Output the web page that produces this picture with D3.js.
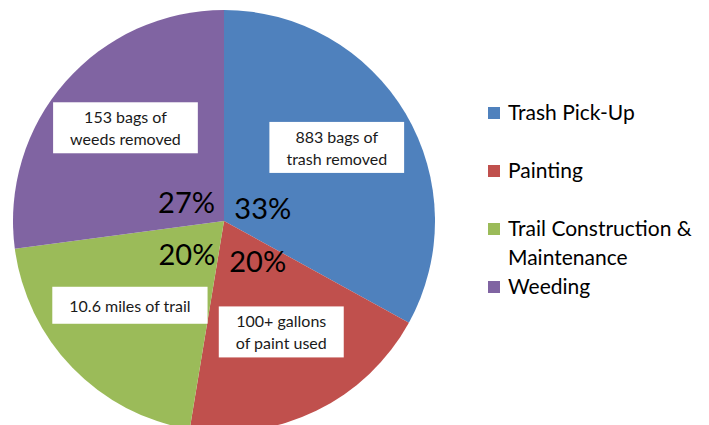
<!DOCTYPE html>
<html>
<head>
<meta charset="utf-8">
<script src="https://cdn.jsdelivr.net/npm/d3@7"></script>
<style>
  body { margin: 0; background: #fff; }
  svg { display: block; font-family: Lato, "Open Sans", sans-serif; }
</style>
</head>
<body>
<svg id="chart"></svg>
<script>
// volunteer work pie — share by activity, with note boxes

const categories = ['Trash Pick-Up', 'Painting', 'Trail Construction & Maintenance', 'Weeding'];
const shares     = [33.0, 19.6, 20.3, 27.1];
const notes      = [
    ['883 bags of', 'trash removed'],
    ['100+ gallons', 'of paint used'],
    ['10.6 miles of trail'],
    ['153 bags of', 'weeds removed'],
];
const legendLines = [
    ['Trash Pick-Up'],
    ['Painting'],
    ['Trail Construction &', 'Maintenance'],
    ['Weeding'],
];

const COLORS = ['#4f81bd', '#c0504d', '#9bbb59', '#8064a2'];

const W = 709, H = 425;
const svg = d3.select('#chart').attr('width', W).attr('height', H);

const cx = 224, cy = 221, R = 211;

const color = d3.scaleOrdinal().domain(categories).range(COLORS);

const pie = d3.pie().sort(null).value(d => d.value);
const data = categories.map((c, i) => ({ name: c, value: shares[i], note: notes[i] }));
const arcs = pie(data);
const total = d3.sum(shares);

const arc      = d3.arc().innerRadius(0).outerRadius(R);
const unitArc  = d3.arc().innerRadius(1).outerRadius(1);   // direction of slice middle
const noteArc  = d3.arc().innerRadius(131).outerRadius(131);

const g = svg.append('g').attr('transform', `translate(${cx},${cy})`);

// ── Slices ──────────────────────────────────────────────────────────────
g.selectAll('path.slice')
    .data(arcs)
    .join('path')
    .attr('class', 'slice')
    .attr('d', arc)
    .attr('fill', d => color(d.data.name));

// ── Note boxes ──────────────────────────────────────────────────────────
const LINE_H = 22;
const noteG = g.selectAll('g.note')
    .data(arcs)
    .join('g')
    .attr('class', 'note')
    .attr('transform', d => {
        const [x, y] = noteArc.centroid(d);
        return `translate(${x},${y - 6})`;
    });

noteG.each(function(d) {
    const sel = d3.select(this);
    const lines = d.data.note;
    const rect = sel.append('rect').attr('fill', '#fff');
    const txt = sel.append('text')
        .attr('text-anchor', 'middle')
        .attr('fill', '#1a1a1a')
        .attr('font-size', '16px');
    lines.forEach((l, i) => {
        txt.append('tspan')
            .attr('x', 0)
            .attr('y', (i - (lines.length - 1) / 2) * LINE_H)
            .attr('dy', '0.35em')
            .text(l);
    });
    const bb = txt.node().getBBox();
    const padX = 17, padY = lines.length > 1 ? 5 : 9;
    rect.attr('x', bb.x - padX).attr('y', bb.y - padY)
        .attr('width', bb.width + padX * 2).attr('height', bb.height + padY * 2);
});

// ── Percent labels (hugging the centre, anchored away from it) ─────────
g.selectAll('text.pct')
    .data(arcs)
    .join('text')
    .attr('class', 'pct')
    .attr('transform', d => {
        const [ux, uy] = unitArc.centroid(d);
        return `translate(${ux * 12},${uy * 38 + 7})`;
    })
    .attr('text-anchor', d => unitArc.centroid(d)[0] >= 0 ? 'start' : 'end')
    .attr('dy', '0.35em')
    .attr('fill', '#000')
    .attr('font-size', '29px')
    .text(d => Math.round(d.data.value / total * 100) + '%');

// ── Legend ──────────────────────────────────────────────────────────────
const legY = d3.scalePoint().domain(categories).range([113, 287]);
const legend = svg.append('g').attr('transform', 'translate(488,0)');

const item = legend.selectAll('g.leg')
    .data(categories)
    .join('g')
    .attr('class', 'leg')
    .attr('transform', d => `translate(0,${legY(d)})`);

item.append('rect')
    .attr('x', 0).attr('y', -6)
    .attr('width', 12).attr('height', 12)
    .attr('fill', d => color(d));

item.append('text')
    .attr('fill', '#000')
    .attr('font-size', '21px')
    .each(function(d, i) {
        d3.select(this).selectAll('tspan')
            .data(legendLines[i])
            .join('tspan')
            .attr('x', 20)
            .attr('y', (l, j) => j * 29)
            .attr('dy', '0.35em')
            .text(l => l);
    });
</script>
</body>
</html>
